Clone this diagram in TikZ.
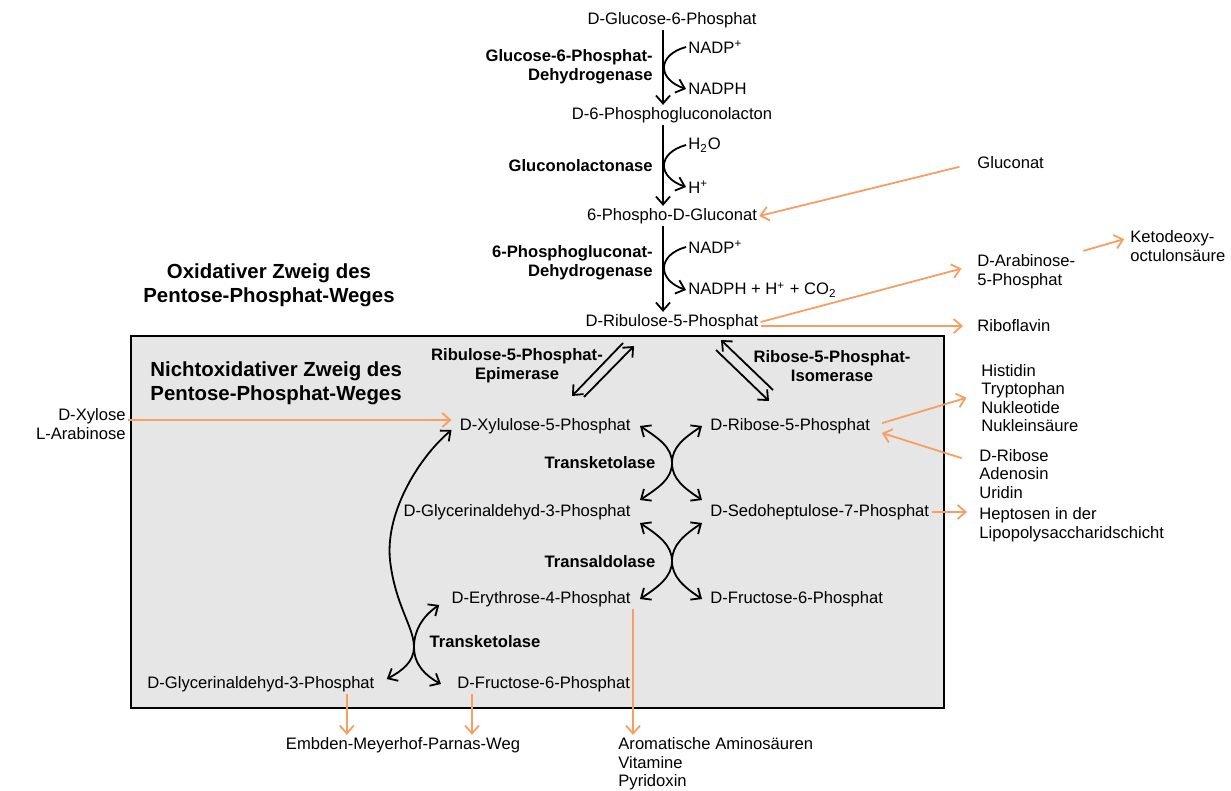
\documentclass[tikz,border=0pt]{standalone}
\usepackage{fontspec}
\setmainfont{Liberation Sans}
\usetikzlibrary{arrows.meta}
\definecolor{pporange}{RGB}{247,158,98}
\definecolor{boxgray}{RGB}{230,230,230}

\begin{document}
\begin{tikzpicture}[x=0.5pt,y=-0.5pt,>={Straight Barb[length=4pt,width=7pt]}]
  \tikzstyle{every node}=[inner sep=1pt,font=\fontsize{8.3}{9.3}\selectfont]
  \tikzstyle{enzyme}=[font=\fontsize{8.3}{9.6}\selectfont\bfseries]
  \tikzstyle{branch}=[font=\fontsize{10.2}{12}\selectfont\bfseries]
  \tikzstyle{rxn}=[line width=0.9pt,black]
  \tikzstyle{feed}=[->,line width=0.9pt,pporange]
  \useasboundingbox (0,0) rectangle (1231,791);

  % non-oxidative box
  \draw[line width=1pt,fill=boxgray] (131,336) rectangle (944,708);

  % oxidative branch
  \node (g6p) at (672,20) {D-Glucose-6-Phosphat};
  \node (pgl) at (672,115) {D-6-Phosphogluconolacton};
  \node (pgc) at (672,216) {6-Phospho-D-Gluconat};
  \node (ru5p) at (672,322) {D-Ribulose-5-Phosphat};
  \node[anchor=west] (nadp1) at (686,47) {NADP\textsuperscript{+}};
  \node[anchor=west] (nadph1) at (686,89) {NADPH};
  \node[anchor=west] (h2o) at (686,145) {H\textsubscript{2}O};
  \node[anchor=west] (hplus) at (686,187) {H\textsuperscript{+}};
  \node[anchor=west] (nadp2) at (686,247) {NADP\textsuperscript{+}};
  \node[anchor=west] (nadph2) at (686,290) {NADPH + H\textsuperscript{+} + CO\textsubscript{2}};
  \node[enzyme,align=right,anchor=east] (g6pdh) at (655,67) {Glucose-6-Phosphat-\\Dehydrogenase};
  \node[enzyme,anchor=east] (lac) at (655,166) {Gluconolactonase};
  \node[enzyme,align=right,anchor=east] (pgdh) at (655,263) {6-Phosphogluconat-\\Dehydrogenase};
  \node[branch,align=center] (oxi) at (269,285) {Oxidativer Zweig des\\Pentose-Phosphat-Weges};

  \draw[rxn,->] ([xshift=-4.5pt]g6p.south) -- ([xshift=-4.5pt]pgl.north);
  \draw[rxn,->] ([xshift=-4.5pt]pgl.south) -- ([xshift=-4.5pt]pgc.north);
  \draw[rxn,->] ([xshift=-4.5pt]pgc.south) -- ([xshift=-4.5pt]ru5p.north);
  \draw[rxn,->] (nadp1.west) .. controls +(-29,8) and +(-29,-10) .. (nadph1.west);
  \draw[rxn,->] (h2o.west) .. controls +(-29,8) and +(-29,-10) .. (hplus.west);
  \draw[rxn,->] (nadp2.west) .. controls +(-29,8) and +(-29,-10) .. (nadph2.west);

  % side products of the oxidative branch
  \node[anchor=west] (gluconat) at (975,163) {Gluconat};
  \node[anchor=west,align=left] (ara5p) at (975,272) {D-Arabinose-\\5-Phosphat};
  \node[anchor=west,align=left] (kdo) at (1128,246) {Ketodeoxy-\\octulonsäure};
  \node[anchor=west] (ribofl) at (975,326) {Riboflavin};
  \draw[feed,shorten <=8pt] (gluconat.west) -- (pgc.east);
  \draw[feed,shorten >=7pt] (ru5p.east) -- ([yshift=3.5pt]ara5p.west);
  \draw[feed,shorten <=3pt,shorten >=2pt] (ara5p.north east) -- ([yshift=4pt]kdo.west);
  \draw[feed,shorten >=6pt] ([yshift=-2pt]ru5p.east) -- ([yshift=-2pt]ru5p.east -| ribofl.west);

  % non-oxidative branch
  \node[branch,align=left,anchor=west] (nonox) at (148,383) {Nichtoxidativer Zweig des\\Pentose-Phosphat-Weges};
  \node[enzyme,align=center] (epi) at (517,366) {Ribulose-5-Phosphat-\\Epimerase};
  \node[enzyme,align=center] (iso) at (832,366) {Ribose-5-Phosphat-\\Isomerase};
  \node[anchor=east] (xyl) at (633,426) {D-Xylulose-5-Phosphat};
  \node[anchor=west] (r5p) at (708,426) {D-Ribose-5-Phosphat};
  \node[anchor=east] (gap1) at (633,512) {D-Glycerinaldehyd-3-Phosphat};
  \node[anchor=west] (s7p) at (708,512) {D-Sedoheptulose-7-Phosphat};
  \node[anchor=east] (e4p) at (633,599) {D-Erythrose-4-Phosphat};
  \node[anchor=west] (f6p1) at (708,599) {D-Fructose-6-Phosphat};
  \node[anchor=west] (gap2) at (145,684) {D-Glycerinaldehyd-3-Phosphat};
  \node[anchor=west] (f6p2) at (455,684) {D-Fructose-6-Phosphat};
  \node[enzyme] (tk1) at (600,463) {Transketolase};
  \node[enzyme] (ta) at (600,562) {Transaldolase};
  \node[enzyme] (tk2) at (485,642) {Transketolase};

  % equilibrium arrows
  \coordinate (epiA) at (623,343);
  \coordinate (epiB) at (572,396);
  \coordinate (epiC) at (584,397);
  \coordinate (epiD) at (634,346);
  \coordinate (isoA) at (773,390);
  \coordinate (isoB) at (721,340);
  \coordinate (isoC) at (716,350);
  \coordinate (isoD) at (769,401);
  \draw[rxn,->] (epiA) -- (epiB);
  \draw[rxn,->] (epiC) -- (epiD);
  \draw[rxn,->] (isoA) -- (isoB);
  \draw[rxn,->] (isoC) -- (isoD);

  % crossing arrows
  \coordinate (tkx1) at (672,463);
  \coordinate (tax) at (672,561);
  \coordinate (tkx2) at (414,647);
  \coordinate (swing) at (390,560);
  \draw[rxn,<->] ([xshift=3.5pt]xyl.east) .. controls +(18,12) and +(0,-16) .. (tkx1)
    .. controls +(0,16) and +(18,-12) .. ([xshift=3.5pt,yshift=6pt]gap1.east);
  \draw[rxn,<->] ([xshift=-3pt]r5p.west) .. controls +(-18,12) and +(0,-16) .. (tkx1)
    .. controls +(0,16) and +(-18,-12) .. ([xshift=-3pt,yshift=6pt]s7p.west);
  \draw[rxn,<->] ([xshift=3.5pt,yshift=-5.5pt]gap1.east) .. controls +(18,12) and +(0,-16) .. (tax)
    .. controls +(0,16) and +(18,-12) .. ([xshift=3.5pt]e4p.east);
  \draw[rxn,<->] ([xshift=-3pt,yshift=-5.5pt]s7p.west) .. controls +(-18,12) and +(0,-16) .. (tax)
    .. controls +(0,16) and +(-18,-12) .. ([xshift=-3pt]f6p1.west);
  \draw[rxn,<->] ([xshift=-3pt,yshift=-2pt]xyl.west) .. controls +(-30,25) and +(-5,-50) .. (swing)
    .. controls +(5,45) and +(0,-20) .. (tkx2)
    .. controls +(0,15) and +(15,-8) .. ([xshift=5pt,yshift=2.5pt]gap2.east);
  \draw[rxn,<->] ([xshift=-5pt,yshift=-3pt]e4p.west) .. controls +(-15,10) and +(0,-18) .. (tkx2)
    .. controls +(0,18) and +(-15,-8) .. ([xshift=-7pt]f6p2.west);

  % inputs and outputs
  \node[anchor=east,align=right] (xylose) at (128,424) {D-Xylose\\L-Arabinose};
  \node[anchor=west,align=left] (nucl) at (979,398) {Histidin\\Tryptophan\\Nukleotide\\Nukleinsäure};
  \node[anchor=west,align=left] (ribose) at (977,474) {D-Ribose\\Adenosin\\Uridin};
  \node[anchor=west,align=left] (hept) at (977,525) {Heptosen in der\\Lipopolysaccharidschicht};
  \node (emp) at (403,745) {Embden-Meyerhof-Parnas-Weg};
  \node[anchor=north west,align=left] (arom) at (616,735) {Aromatische Aminosäuren\\Vitamine\\Pyridoxin};
  \draw[feed,shorten >=3pt] ([yshift=2pt]xylose.east) -- ([yshift=2pt]xylose.east -| xyl.west);
  \draw[feed,shorten <=5pt,shorten >=6.5pt] (r5p.east) -- ([yshift=2pt]nucl.west);
  \draw[feed,shorten <=8pt,shorten >=5pt] ([yshift=5.5pt]ribose.west) -- ([yshift=-2pt]r5p.east);
  \draw[feed,shorten >=5pt] (s7p.east) -- (s7p.east -| hept.west);
  \draw[feed] ([xshift=-15pt]gap2.south east) -- ([xshift=-15pt]gap2.south east |- emp.north);
  \draw[feed] ([xshift=8.5pt]f6p2.south west) -- ([xshift=8.5pt]f6p2.south west |- emp.north);
  \draw[feed] (e4p.south east) -- (e4p.south east |- arom.north west);
\end{tikzpicture}
\end{document}
